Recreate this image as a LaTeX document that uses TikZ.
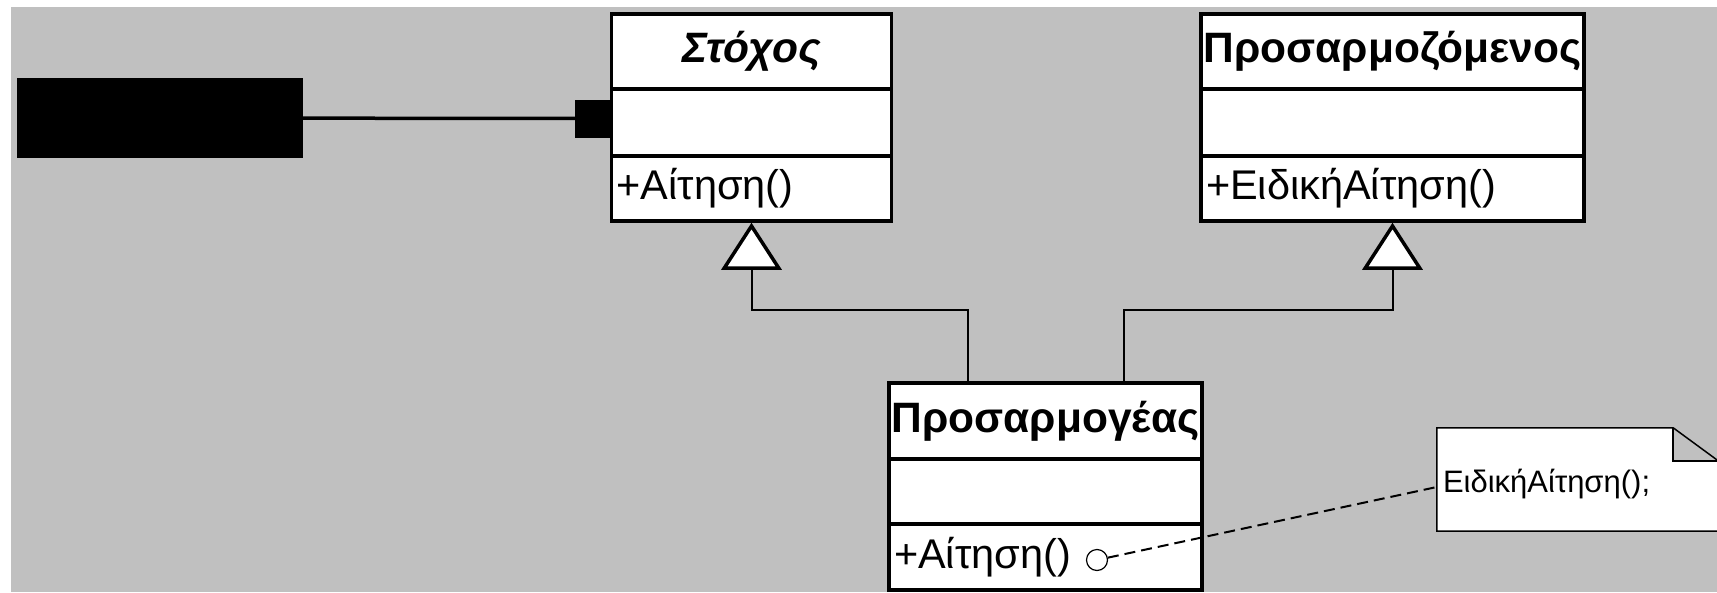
\documentclass[tikz,border=0pt]{standalone}
\usepackage{fontspec}
\setmainfont{Liberation Sans}
\usetikzlibrary{arrows.meta}
\definecolor{canvas}{RGB}{192,192,192}

\begin{document}
\begin{tikzpicture}[x=1pt,y=-1pt,
    classbox/.style={draw,fill=white,line width=3.5pt,inner xsep=5pt,inner ysep=0pt,
      font=\fontsize{41.5}{48}\selectfont},
    classname/.style={classbox,inner xsep=0pt,font=\fontsize{42.5}{48}\selectfont\bfseries},
    classops/.style={classbox,align=left},
    inherit/.style={line width=2pt,
      -{Triangle[length=47pt,width=60pt,fill=white,line width=3.5pt]}},
    notelink/.style={line width=2pt,dash pattern=on 11pt off 6pt}]
    \useasboundingbox (0,0) rectangle (1717,592);
    \fill[canvas] (11,7) rectangle (1717,592);

    % Stochos
    \node[classname,minimum width=280pt,minimum height=75pt] (target) at (751.5,51.5) {\itshape Στόχος};
    \node[classbox,minimum width=280pt,minimum height=67pt] (targetattr) at (751.5,122.5) {};
    \node[classops,text width=270pt,minimum height=65pt] (targetops) at (751.5,188.5) {+Αίτηση()};

    % Prosarmozomenos
    \node[classname,minimum width=383pt,minimum height=75pt] (adaptee) at (1392.5,51.5) {Προσαρμοζόμενος};
    \node[classbox,minimum width=383pt,minimum height=67pt] (adapteeattr) at (1392.5,122.5) {};
    \node[classops,text width=373pt,minimum height=65pt] (adapteeops) at (1392.5,188.5) {+ΕιδικήΑίτηση()};

    % Prosarmogeas
    \node[classname,minimum width=313pt,minimum height=76pt] (adapter) at (1045.5,421) {Προσαρμογέας};
    \node[classbox,minimum width=313pt,minimum height=65pt] (adapterattr) at (1045.5,491.5) {};
    \node[classops,text width=303pt,minimum height=66pt] (adapterops) at (1045.5,557) {+Αίτηση()};

    % client and port
    \node[fill=black,minimum width=286pt,minimum height=80pt,inner sep=0pt] (client) at (160,118) {};
    \node[fill=black,minimum size=38pt,inner sep=0pt] (port) at (594,118.5) {};
    \draw[line width=3.5pt] (client) -- (port);

    % generalizations
    \coordinate (fork) at (0,310);
    \draw[inherit] ([xshift=-78pt]adapter.north) -- ([xshift=-78pt]adapter.north |- fork) -| (targetops.south);
    \draw[inherit] ([xshift=78pt]adapter.north) -- ([xshift=78pt]adapter.north |- fork) -| (adapteeops.south);

    % note
    \node[fill=white,minimum width=281pt,minimum height=103pt,inner sep=0pt] (note) at (1577.5,479.5) {};
    \fill[canvas] ([xshift=-45pt]note.north east) rectangle ([yshift=-33pt]note.north east);
    \draw[line width=1.5pt] (note.north west) -- ([xshift=-45pt]note.north east)
      -- ([yshift=-33pt]note.north east) -- (note.south east) -- (note.south west) -- cycle;
    \draw[line width=1.5pt] ([xshift=-45pt]note.north east) |- ([yshift=-33pt]note.north east);
    \node[anchor=west,inner sep=0pt,font=\fontsize{31}{36}\selectfont] (notetext)
      at ([xshift=6pt,yshift=-5pt]note.west) {ΕιδικήΑίτηση();};

    \node[circle,draw,fill=white,line width=1.2pt,minimum size=21pt,inner sep=0pt] (dot) at (1097,560) {};
    \draw[notelink] (dot) -- ([yshift=-7.5pt]note.west);
  \end{tikzpicture}
\end{document}
